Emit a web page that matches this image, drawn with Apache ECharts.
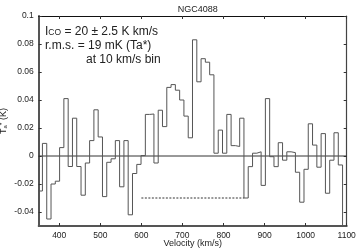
<!DOCTYPE html>
<html>
<head>
<meta charset="utf-8">
<script src="https://cdn.jsdelivr.net/npm/echarts@6/dist/echarts.min.js"></script>
<style>
html,body{margin:0;padding:0;background:#fff;}
#c{width:359px;height:249px;}
</style>
</head>
<body>
<div id="c"></div>
<script>
// Channel left edges (km/s) and the final right edge
const binEdges = [348.7, 359.1, 369.6, 380.0, 390.4, 400.9, 411.3, 421.8, 432.2, 442.6,
  453.1, 463.5, 474.0, 484.4, 494.8, 505.3, 515.7, 526.2, 536.6, 547.0,
  557.5, 567.9, 578.4, 588.8, 599.2, 609.7, 620.1, 630.6, 641.0, 651.4,
  661.9, 672.3, 682.8, 693.2, 703.6, 714.1, 724.5, 735.0, 745.4, 755.8,
  766.3, 776.7, 787.2, 797.6, 808.0, 818.5, 828.9, 839.4, 849.8, 860.2,
  870.7, 881.1, 891.6, 902.0, 912.4, 922.9, 933.3, 943.8, 954.2, 964.6,
  975.1, 985.5, 996.0, 1006.4, 1016.8, 1027.3, 1037.7, 1048.2, 1058.6, 1069.0,
  1079.5, 1089.9];
// Antenna temperature Ta* (K) per channel
const taValues = [-0.025, 0.009, -0.045, -0.020, -0.018, 0.006, 0.041, -0.0075, 0.027, -0.0075,
  -0.028, -0.005, 0.011, 0.033, 0.0136, -0.029, -0.0045, -0.002, 0.011, -0.022,
  0.011, -0.042, -0.0125, -0.006, 0.0003, 0.0297, 0.030, -0.005, 0.0327, 0.021,
  0.049, 0.051, 0.047, 0.040, 0.0285, 0.013, 0.083, 0.053, 0.0695, 0.067,
  0.058, 0.002, 0.0185, 0.002, 0.0297, 0.0074, 0.0068, 0.027, -0.030, -0.0076,
  0.002, 0.003, -0.021, 0.041, -0.0005, -0.0076, 0.0095, -0.003, 0.003, 0.0024,
  -0.0116, -0.033, -0.0095, 0.023, 0.0078, -0.008, 0.016, -0.0266, -0.003, 0.0166,
  -0.0064];
const xTicks = [400, 500, 600, 700, 800, 900, 1000, 1100];
const yTicks = [-0.04, -0.02, 0, 0.02, 0.04, 0.06, 0.08, 0.1];
const xRange = [350, 1100];
const yRange = [-0.05, 0.1];
const integRange = [600, 850];
const integLevel = -0.03;

const stepPts = [];
for (let i = 0; i < taValues.length; i++) {
  stepPts.push([binEdges[i], taValues[i]]);
  stepPts.push([binEdges[i + 1], taValues[i]]);
}
stepPts.push([binEdges[binEdges.length - 1], yRange[0] - 0.01]);

const FONT = 'Liberation Sans';
const chart = echarts.init(document.getElementById('c'), null, {renderer: 'canvas'});

const axisCommon = {
  type: 'value',
  splitLine: {show: false},
  axisTick: {inside: true, length: 3, lineStyle: {color: '#333', width: 1}},
};

chart.setOption({
  animation: false,
  backgroundColor: '#fff',
  grid: {left: 38.7, right: 12.3, top: 16, bottom: 23, containLabel: false, outerBoundsMode: 'none'},
  title: {
    text: 'NGC4088', left: 192.7, top: 0.5, textAlign: 'center',
    textStyle: {fontFamily: FONT, fontSize: 9, fontWeight: 'normal', color: '#222'}
  },
  xAxis: [
    Object.assign({}, axisCommon, {
      min: xRange[0], max: xRange[1], position: 'bottom',
      axisLine: {show: true, onZero: false, lineStyle: {color: '#555', width: 2}},
      axisTick: {inside: true, length: 3, customValues: xTicks, lineStyle: {color: '#333'}},
      axisLabel: {customValues: xTicks, margin: 5, fontFamily: FONT, fontSize: 8.5, color: '#222',
        formatter: function (v) { return String(v); }},
      name: 'Velocity (km/s)', nameLocation: 'middle', nameGap: 13.5, nameMoveOverlap: false,
      nameTextStyle: {fontFamily: FONT, fontSize: 9, color: '#222', verticalAlign: 'top'}
    }),
    Object.assign({}, axisCommon, {
      min: xRange[0], max: xRange[1], position: 'top',
      axisLine: {show: true, onZero: false, lineStyle: {color: '#111', width: 1}},
      axisTick: {inside: true, length: 3, customValues: xTicks, lineStyle: {color: '#333'}},
      axisLabel: {show: false}
    })
  ],
  yAxis: [
    Object.assign({}, axisCommon, {
      min: yRange[0], max: yRange[1], position: 'left',
      axisLine: {show: true, onZero: false, lineStyle: {color: '#555', width: 2}},
      axisTick: {inside: true, length: 3, customValues: yTicks, lineStyle: {color: '#333'}},
      axisLabel: {customValues: yTicks, margin: 5, fontFamily: FONT, fontSize: 8.5, color: '#222',
        formatter: function (v) { return String(Math.round(v * 100) / 100); }},
      name: 'T{sub|a}{sup|*} (K)', nameLocation: 'middle', nameGap: 30, nameRotate: 90, nameMoveOverlap: false,
      nameTextStyle: {
        fontFamily: FONT, fontSize: 9, color: '#222',
        rich: {
          sub: {fontFamily: FONT, fontSize: 6, color: '#222', verticalAlign: 'bottom', padding: [4, 0, 0, 0]},
          sup: {fontFamily: FONT, fontSize: 7, color: '#222', verticalAlign: 'top', padding: [0, 0, 3, 0]}
        }
      }
    }),
    Object.assign({}, axisCommon, {
      min: yRange[0], max: yRange[1], position: 'right',
      axisLine: {show: true, onZero: false, lineStyle: {color: '#444', width: 1.2}},
      axisTick: {inside: true, length: 3, customValues: yTicks, lineStyle: {color: '#333'}},
      axisLabel: {show: false}
    })
  ],
  graphic: [
    {type: 'text', left: 45, top: 25.5, style: {
      text: 'I{co|CO} = 20 ± 2.5 K km/s',
      font: '12px "' + FONT + '"', fill: '#222',
      rich: {co: {fontSize: 8.5, fontFamily: FONT, fill: '#222', padding: [2, 0, 0, 0]}}
    }},
    {type: 'text', left: 45, top: 39.5, style: {
      text: 'r.m.s. = 19 mK (Ta*)', font: '12px "' + FONT + '"', fill: '#222'
    }},
    {type: 'text', left: 86, top: 54, style: {
      text: 'at 10 km/s bin', font: '12px "' + FONT + '"', fill: '#222'
    }}
  ],
  series: [
    {
      type: 'line', xAxisIndex: 0, yAxisIndex: 0, silent: true,
      data: [[xRange[0], 0], [xRange[1], 0]],
      symbol: 'none', lineStyle: {color: '#333', width: 1}
    },
    {
      type: 'line', xAxisIndex: 0, yAxisIndex: 0, silent: true,
      data: [[integRange[0], integLevel], [integRange[1], integLevel]],
      symbol: 'none', lineStyle: {color: '#333', width: 1, type: [2, 1.5]}
    },
    {
      type: 'line', xAxisIndex: 0, yAxisIndex: 0, silent: true, clip: true,
      data: stepPts, symbol: 'none',
      lineStyle: {color: '#555', width: 1}
    }
  ]
});
</script>
</body>
</html>
